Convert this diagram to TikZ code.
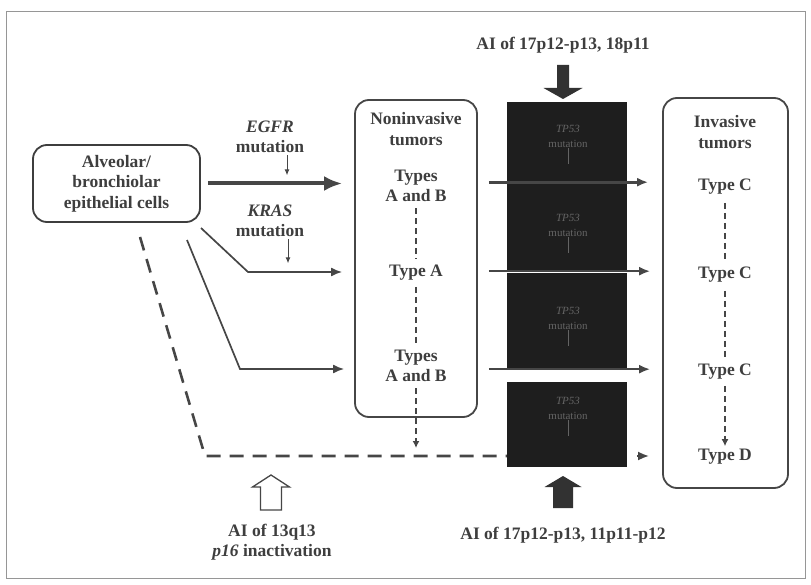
\documentclass[tikz,border=0pt]{standalone}
\usepackage{fontspec}
\setmainfont{Liberation Serif}
\usepackage{xcolor}
\definecolor{inkGray}{RGB}{62,62,62}
\definecolor{lineGray}{RGB}{70,70,70}
\definecolor{boxBlack}{RGB}{30,30,30}
\definecolor{faintGray}{RGB}{100,100,100}
\definecolor{frameGray}{RGB}{150,150,150}
\definecolor{blockGray}{RGB}{50,50,50}
\usepackage{tikz}
\usetikzlibrary{arrows,arrows.meta,positioning,calc}
\tikzstyle{roundbox}=[draw=lineGray, line width=1.8pt, rounded corners=14pt, inner sep=0pt]
\tikzstyle{lbl}=[font=\fontsize{17.5}{20.5}\selectfont\bfseries, color=inkGray, align=center, inner sep=2pt]
\tikzstyle{darkbox}=[fill=boxBlack, inner sep=0pt]
\tikzstyle{darklbl}=[font=\fontsize{11}{15}\selectfont, color=faintGray, align=center, inner sep=1pt]
\tikzstyle{mainarrow}=[-{Latex[length=18pt,width=15pt]}, line width=4pt, color=lineGray]
\tikzstyle{steparrow}=[-{Latex[length=11pt,width=9pt]}, line width=1.7pt, color=lineGray]
\tikzstyle{tinyarrow}=[-{Latex[length=6pt,width=5pt]}, line width=1pt, color=lineGray]
\tikzstyle{longdash}=[line width=2.6pt, color=lineGray, dash pattern=on 14pt off 9pt]
\tikzstyle{shortdash}=[line width=1.5pt, color=lineGray, dash pattern=on 6pt off 4pt]

\begin{document}
\begin{tikzpicture}[x=1pt, y=-1pt]
    \useasboundingbox (0,0) rectangle (811,585);
    \draw[frameGray, line width=1pt] (6,12) rectangle (805,578);

    % Origem
    \node[roundbox, lbl, minimum width=167pt, minimum height=77pt] (src) at (116.5,183.5)
          {Alveolar/\\bronchiolar\\epithelial cells};

    % Coluna escura
    \node[darkbox, minimum width=120pt, minimum height=80pt] (tpA) at (567,142) {};
    \node[darkbox, minimum width=120pt, minimum height=87pt] (tpB) at (567,227.5) {};
    \node[darkbox, minimum width=120pt, minimum height=96pt] (tpC) at (567,321) {};
    \node[darkbox, minimum width=120pt, minimum height=85pt] (tpD) at (567,424.5) {};
    \node[darklbl] (tpLblA) at (568,136) {\textit{TP53}\\mutation};
    \node[darklbl] (tpLblB) at (568,225) {\textit{TP53}\\mutation};
    \node[darklbl] (tpLblC) at (568,318) {\textit{TP53}\\mutation};
    \node[darklbl] (tpLblD) at (568,408) {\textit{TP53}\\mutation};
    \foreach \t in {A,B,C,D} {
      \draw[faintGray, line width=0.8pt] (tpLbl\t.south) -- ++(0,16);
    }

    % Tumores nao invasivos
    \node[roundbox, minimum width=122pt, minimum height=317pt] (noninv) at (416,258.5) {};
    \node[lbl] (nonTitle) at (416,129) {Noninvasive\\tumors};
    \node[lbl] (tAB1) at (416,186) {Types\\A and B};
    \node[lbl] (typeA) at (416,273) {Type A};
    \node[lbl] (tAB2) at (416,366) {Types\\A and B};

    % Tumores invasivos
    \node[roundbox, minimum width=125pt, minimum height=390pt] (inv) at (725.5,293) {};
    \node[lbl] (invTitle) at (725,132) {Invasive\\tumors};
    \node[lbl] (typeC1) at (725,187) {Type C};
    \node[lbl] (typeC2) at (725,275) {Type C};
    \node[lbl] (typeC3) at (725,372) {Type C};
    \node[lbl] (typeD) at (725,457) {Type D};

    % Mutacoes
    \node[lbl] (egfr) at (270,137) {\textit{EGFR}\\mutation};
    \node[lbl] (kras) at (270,221) {\textit{KRAS}\\mutation};
    \draw[tinyarrow] ([xshift=17pt]egfr.south) -- ++(0,20);
    \draw[tinyarrow] ([xshift=18pt]kras.south) -- ++(0,24);

    % Rotas
    \coordinate (kStart) at (201,228);
    \coordinate (kBend) at (248,272);
    \coordinate (tStart) at (187,240);
    \coordinate (tBend) at (240,369);
    \coordinate (dashStart) at (140,237);
    \coordinate (dashCorner) at (205,456);
    \draw[mainarrow, shorten <=7pt, shorten >=12pt] (src.east) -- (src.east -| noninv.west);
    \draw[steparrow, shorten >=12pt] (kStart) -- (kBend) -- (noninv.west |- kBend);
    \draw[steparrow, shorten >=10pt] (tStart) -- (tBend) -- (noninv.west |- tBend);
    \draw[longdash] (dashStart) -- (dashCorner) -- (dashCorner -| tpD.west);
    \draw[steparrow, line width=2pt, shorten <=10pt, shorten >=13pt] (tpD.east |- dashCorner) -- (inv.west |- dashCorner);

    % Passagem para invasivos
    \draw[steparrow, line width=2.8pt, shorten <=11pt, shorten >=14pt] (noninv.east |- tpA.south) -- (inv.west |- tpA.south);
    \draw[steparrow, line width=2pt, shorten <=11pt, shorten >=12pt] (noninv.east |- tpB.south) -- (inv.west |- tpB.south);
    \draw[steparrow, line width=2pt, shorten <=11pt, shorten >=12pt] (noninv.east |- tpC.south) -- (inv.west |- tpC.south);

    % Progressao dentro das caixas
    \draw[shortdash, shorten <=4pt, shorten >=4pt] (tAB1.south) -- (typeA.north);
    \draw[shortdash, shorten <=4pt, shorten >=4pt] (typeA.south) -- (tAB2.north);
    \draw[shortdash, -{Latex[length=7pt,width=7pt]}, shorten <=4pt, shorten >=8pt] (tAB2.south) -- (tAB2.south |- dashCorner);
    \draw[shortdash, shorten <=6pt, shorten >=4pt] (typeC1.south) -- (typeC2.north);
    \draw[shortdash, shorten <=6pt, shorten >=4pt] (typeC2.south) -- (typeC3.north);
    \draw[shortdash, -{Latex[length=7pt,width=7pt]}, shorten <=4pt, shorten >=1pt] (typeC3.south) -- (typeD.north);

    % AI (setas em bloco)
    \node[lbl] (aiTop) at (563,45) {AI of 17p12-p13, 18p11};
    \node[lbl] (aiBot) at (563,535) {AI of 17p12-p13, 11p11-p12};
    \node[lbl] (aiLeft) at (272,542) {AI of 13q13\\\textit{p16} inactivation};
    \coordinate (topTip) at (563,99);
    \coordinate (botTip) at (563,476);
    \coordinate (openTip) at (271,475);
    \fill[blockGray] (topTip) -- ++(-19.5,-11) -- ++(13.5,0) -- ++(0,-23) -- ++(12,0)
          -- ++(0,23) -- ++(13.5,0) -- cycle;
    \fill[blockGray] (botTip) -- ++(-18.5,11) -- ++(8.5,0) -- ++(0,21) -- ++(20,0)
          -- ++(0,-21) -- ++(8.5,0) -- cycle;
    \filldraw[fill=white, draw=lineGray, line width=1.3pt] (openTip) -- ++(-18.5,12) -- ++(8,0)
          -- ++(0,23) -- ++(21,0) -- ++(0,-23) -- ++(8,0) -- cycle;
  \end{tikzpicture}
\end{document}
